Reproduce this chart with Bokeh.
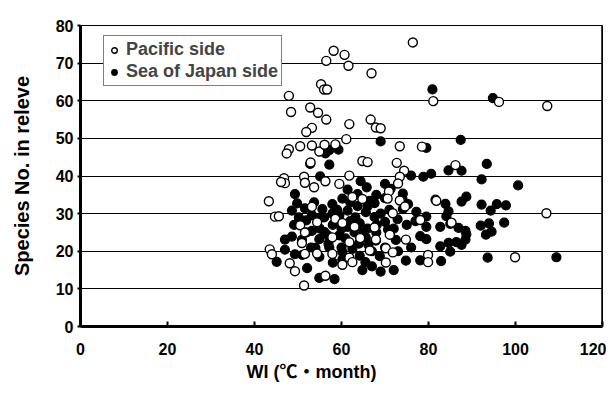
from bokeh.plotting import figure
from bokeh.models import ColumnDataSource, Legend, LegendItem, Span, FixedTicker, Range1d, Title
from bokeh.embed import file_html
from bokeh.resources import INLINE

# ---- data ----
pacific_wi = [76.4, 58.2, 60.7, 56.5, 61.6, 66.9, 55.3, 56.0, 56.7, 81.1,
              96.2, 107.3, 52.8, 54.6, 56.5, 53.2, 51.9, 61.8, 66.7, 67.9,
              69.0, 61.1, 73.4, 78.5, 47.9, 48.4, 50.5, 47.9, 47.4, 53.2,
              54.9, 56.1, 58.6, 52.9, 64.8, 66.0, 72.7, 74.4, 73.4, 46.8,
              47.0, 51.4, 51.6, 53.7, 56.3, 59.5, 61.8, 73.0, 70.9, 43.3,
              62.5, 64.8, 70.6, 73.4, 74.6, 44.7, 45.6, 58.6, 71.8, 78.1,
              50.5, 54.4, 60.2, 63.0, 67.6, 51.6, 57.9, 61.8, 71.1, 74.8,
              50.9, 43.5, 44.0, 51.6, 57.9, 61.8, 66.5, 70.2, 71.8, 79.9,
              79.9, 48.1, 49.3, 56.3, 51.4, 62.5, 70.2, 81.8, 85.3, 86.2,
              107.1, 99.9, 46.1, 64.3, 54.4, 60.2, 67.9, 53.2]
pacific_species = [75.5, 73.3, 72.2, 70.6, 69.3, 67.3, 64.4, 63.0, 63.0, 59.9,
                   59.7, 58.6, 58.2, 56.8, 55.0, 52.8, 51.7, 53.8, 55.0, 52.9,
                   52.7, 49.8, 47.9, 47.8, 61.3, 57.0, 47.9, 47.1, 46.0, 48.1,
                   46.5, 48.3, 48.4, 43.6, 44.0, 43.7, 43.5, 41.4, 39.8, 39.4,
                   38.1, 39.8, 38.2, 37.0, 38.6, 37.9, 40.1, 38.0, 35.9, 33.3,
                   34.4, 33.9, 34.0, 33.5, 31.9, 29.2, 29.3, 28.6, 30.1, 28.3,
                   26.9, 27.7, 27.5, 26.5, 26.3, 25.0, 23.7, 22.4, 24.4, 23.1,
                   22.2, 20.5, 19.2, 19.3, 19.3, 18.3, 20.2, 20.8, 19.7, 19.0,
                   17.1, 16.8, 14.7, 13.5, 10.9, 17.1, 17.0, 33.4, 27.6, 42.9,
                   30.1, 18.4, 38.4, 23.5, 19.4, 16.4, 23.1, 31.8]

japan_wi = [80.9, 94.8, 69.0, 87.4, 79.5, 57.2, 59.3, 56.3, 57.2, 52.8,
            76.0, 78.8, 80.6, 84.6, 87.6, 93.4, 92.2, 100.6, 55.1, 64.4,
            49.3, 70.0, 71.3, 74.1, 49.8, 51.6, 53.7, 66.5, 70.0, 75.3,
            81.6, 83.9, 77.2, 79.5, 84.1, 88.7, 87.6, 92.2, 95.7, 97.8,
            94.3, 50.2, 53.2, 54.9, 57.9, 59.5, 61.4, 63.2, 65.6, 67.6,
            70.0, 79.5, 82.7, 85.0, 49.1, 64.2, 64.8, 86.9, 88.5, 92.0,
            93.9, 97.4, 94.5, 93.2, 47.0, 48.6, 50.9, 54.9, 56.1, 59.5,
            60.9, 65.6, 67.9, 72.5, 78.1, 79.5, 82.7, 84.6, 47.0, 54.0,
            57.2, 62.5, 88.7, 88.5, 86.4, 87.6, 45.1, 49.3, 54.9, 60.2,
            64.2, 68.8, 74.8, 78.1, 82.9, 85.0, 93.6, 109.4, 52.1, 54.9,
            58.4, 64.8, 69.0, 65.5, 60.2, 84.6, 61.4, 63.7, 65.8, 67.6,
            60.2, 57.9, 55.6, 63.7, 68.1, 61.4, 56.8, 53.2, 66.2, 70.7,
            72.9, 74.1, 51.9, 48.6, 58.0, 60.0, 62.0, 63.0, 66.0, 68.0,
            69.0, 71.0, 72.0, 66.0, 62.0, 59.0, 56.0, 55.0, 52.0, 57.0,
            60.0, 64.0, 67.0, 70.0, 73.0, 76.0, 75.0, 77.0, 74.0, 68.0,
            53.0, 51.0, 58.0, 67.0, 72.0]
japan_species = [63.0, 60.7, 49.2, 49.6, 47.5, 46.9, 47.0, 46.0, 43.0, 43.2,
                 40.1, 39.8, 40.6, 41.5, 41.4, 43.2, 39.1, 37.5, 39.9, 38.6,
                 35.2, 37.9, 36.6, 35.3, 32.7, 31.4, 33.0, 33.4, 34.1, 32.5,
                 33.7, 32.6, 30.5, 29.2, 29.3, 34.5, 33.2, 32.4, 32.5, 32.2,
                 30.8, 29.0, 29.6, 28.8, 30.0, 29.5, 30.8, 29.0, 30.4, 29.1,
                 27.8, 26.5, 26.5, 27.3, 27.0, 27.4, 25.0, 26.2, 25.4, 26.8,
                 27.4, 27.6, 25.2, 24.4, 23.1, 23.9, 23.0, 23.2, 25.1, 24.2,
                 23.4, 23.6, 22.8, 23.0, 24.0, 23.2, 21.3, 22.2, 20.4, 20.9,
                 21.0, 20.6, 24.5, 23.1, 22.4, 21.7, 17.2, 19.2, 18.5, 19.8,
                 18.8, 18.7, 17.5, 17.6, 17.4, 19.9, 18.3, 18.4, 15.5, 12.9,
                 12.6, 15.0, 14.6, 17.1, 17.8, 30.6, 36.4, 35.2, 37.0, 32.8,
                 34.0, 32.5, 31.2, 32.0, 27.0, 26.5, 24.2, 25.4, 21.7, 25.8,
                 28.5, 31.2, 28.2, 30.8, 27.0, 26.0, 28.0, 25.0, 26.0, 25.0,
                 30.0, 31.0, 26.0, 32.0, 33.0, 31.0, 29.0, 26.0, 25.0, 22.0,
                 21.0, 22.0, 20.0, 21.0, 20.0, 21.0, 27.0, 28.0, 34.0, 35.0,
                 21.0, 19.0, 17.0, 16.0, 15.0]

x_ticks = [0, 20, 40, 60, 80, 100, 120]
y_ticks = [0, 10, 20, 30, 40, 50, 60, 70, 80]
x_title = "WI (℃・month)"
y_title = "Species No. in releve"

FONT = "Liberation Sans"
LABEL_FONT = "'Liberation Sans', 'Noto Sans CJK JP'"

p = figure(width=606, height=401, output_backend="svg", toolbar_location=None,
           x_range=Range1d(0, 120), y_range=Range1d(0, 80),
           min_border_left=80, min_border_right=4, min_border_top=25, min_border_bottom=75)

src_j = ColumnDataSource(dict(x=japan_wi, y=japan_species))
src_p = ColumnDataSource(dict(x=pacific_wi, y=pacific_species))

r_j = p.scatter("x", "y", source=src_j, size=9, marker="circle",
                fill_color="black", line_color="black", line_width=1.2)
r_p = p.scatter("x", "y", source=src_p, size=9, marker="circle",
                fill_color="white", line_color="black", line_width=1.4)

# axes
p.xaxis.ticker = FixedTicker(ticks=x_ticks)
p.yaxis.ticker = FixedTicker(ticks=y_ticks)
for ax in (p.xaxis[0], p.yaxis[0]):
    ax.axis_line_width = 3
    ax.axis_line_color = "black"
    ax.major_tick_line_color = "black"
    ax.major_tick_line_width = 2
    ax.minor_tick_line_color = None
    ax.major_label_text_font = FONT
    ax.major_label_text_font_style = "bold"
    ax.major_label_text_font_size = "16px"
    ax.major_label_text_color = "black"
    ax.axis_label_text_font = LABEL_FONT
    ax.axis_label_text_font_style = "bold"
    ax.axis_label_text_color = "black"

p.xaxis.major_tick_in = 5
p.xaxis.major_tick_out = 0
p.xaxis.major_label_standoff = 16

p.yaxis.major_tick_in = 0
p.yaxis.major_tick_out = 3
p.yaxis.major_label_standoff = 4
p.yaxis.axis_label = y_title
p.yaxis.axis_label_text_font_size = "20px"
p.yaxis.axis_label_standoff = 20

# x-axis title placed below, slightly left of centre as in the reference
xt = Title(text=x_title, align="left", offset=166, standoff=5,
           text_font=LABEL_FONT, text_font_style="bold", text_font_size="18px",
           text_color="black")
p.add_layout(xt, "below")

p.xgrid.grid_line_color = None
p.ygrid.grid_line_color = "black"
p.ygrid.grid_line_width = 1

p.outline_line_color = "black"
p.outline_line_width = 1
p.add_layout(Span(location=120, dimension="height", line_color="black", line_width=2.5))
p.background_fill_color = "white"
p.border_fill_color = "white"

legend = Legend(items=[LegendItem(label="Pacific side", renderers=[r_p]),
                       LegendItem(label="Sea of Japan side", renderers=[r_j])],
                location=(23, 240))
legend.border_line_color = "black"
legend.border_line_width = 1.5
legend.background_fill_alpha = 1
legend.label_text_font = FONT
legend.label_text_font_style = "bold"
legend.label_text_font_size = "18px"
legend.label_height = 19
legend.glyph_height = 14
legend.glyph_width = 14
legend.spacing = 1
legend.padding = 3
legend.margin = 0
legend.label_standoff = 5
p.add_layout(legend, "center")

open("out.html", "w").write(file_html(p, INLINE))
